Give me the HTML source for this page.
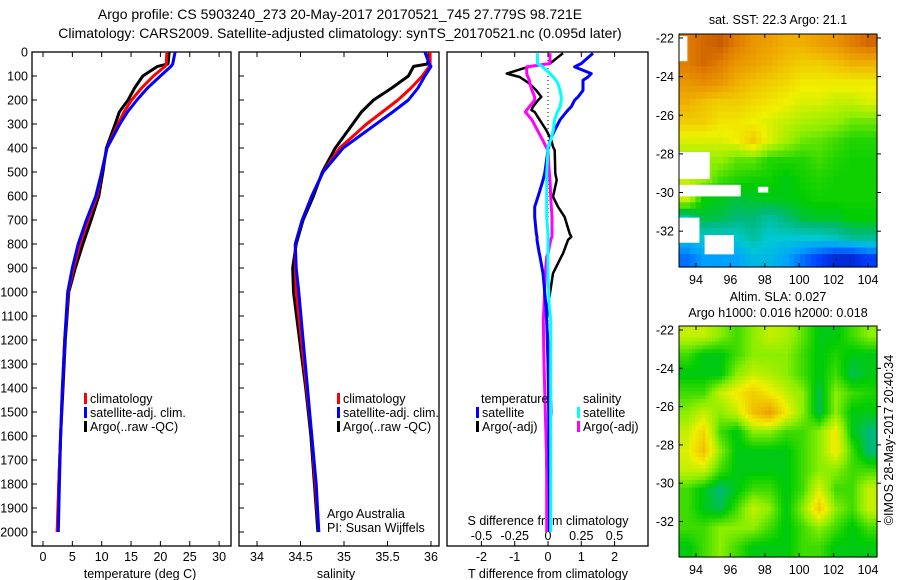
<!DOCTYPE html>
<html><head><meta charset="utf-8">
<style>
html,body{margin:0;padding:0;background:#fff;}
svg{display:block;font-family:"Liberation Sans",sans-serif;}
text{font-size:12.5px;fill:#000;}
</style></head>
<body>
<svg id="fig" width="900" height="580" viewBox="0 0 900 580" xmlns="http://www.w3.org/2000/svg">
<text x="340" y="19" text-anchor="middle" style="font-size:14px">Argo profile: CS 5903240_273 20-May-2017 20170521_745 27.779S 98.721E</text>
<text x="340" y="38" text-anchor="middle" style="font-size:14px">Climatology: CARS2009. Satellite-adjusted climatology: synTS_20170521.nc (0.095d later)</text>
<g id="g1"></g>
<g id="g2"></g>
<g id="g3"></g>
<g id="m1"></g>
<g id="m2"></g>
<text transform="translate(893,440) rotate(-90)" text-anchor="middle">©IMOS 28-May-2017 20:40:34</text>
</svg>
<script>
// ---------- data ----------
const depthTicks=[0,100,200,300,400,500,600,700,800,900,1000,1100,1200,1300,1400,1500,1600,1700,1800,1900,2000];
const tempTicks=[0,5,10,15,20,25,30];
const salTicks=[34,34.5,35,35.5,36];
const salTickLabels=["34","34.5","35","35.5","36"];
const dTTicks=[-2,-1,0,1,2];
const dSTicks=[-0.5,-0.25,0,0.25,0.5];
const dSTickLabels=["-0.5","-0.25","0","0.25","0.5"];

const profDepth=[0,50,60,100,150,200,250,300,400,500,600,700,800,900,1000,1200,1400,1600,1800,2000];
const tempClim=[21.1,21.0,20.8,18.8,16.8,15.1,13.8,12.8,10.9,10.0,9.2,7.7,6.3,5.2,4.3,3.7,3.3,3.0,2.7,2.4];
const tempSat=[22.5,22.1,21.8,20.0,17.8,16.0,14.4,13.1,10.9,10.0,9.0,7.4,6.0,5.0,4.2,3.7,3.3,3.0,2.8,2.6];
const tempArgo=[21.5,21.3,19.5,17.0,15.6,14.5,13.0,12.3,10.8,10.2,9.5,8.2,6.8,5.5,4.4,3.8,3.4,3.0,2.7,2.5];
const salClim=[35.99,35.99,35.98,35.9,35.77,35.62,35.44,35.26,34.95,34.76,34.63,34.52,34.44,34.44,34.45,34.51,34.57,34.63,34.67,34.71];
const salSat=[35.93,35.98,36.0,35.93,35.85,35.74,35.56,35.37,34.99,34.76,34.63,34.52,34.44,34.45,34.48,34.53,34.58,34.63,34.68,34.71];
const salArgo=[35.98,35.96,35.8,35.74,35.55,35.34,35.2,35.1,34.9,34.75,34.65,34.53,34.45,34.41,34.42,34.49,34.56,34.62,34.66,34.7];

const diffDepth=[5,48,62,90,104,118,132,160,187,201,228,242,250,283,326,367,395,409,506,534,603,645,687,756,770,783,840,853,922,1061,1117,1300,1500,1700,1900,2000];
const dTSat=[1.35,1.0,0.8,1.3,1.2,1.05,1.05,1.05,0.9,0.8,0.7,0.6,0.55,0.36,0.2,0.06,0.02,0.0,-0.1,-0.15,-0.3,-0.4,-0.4,-0.35,-0.33,-0.33,-0.26,-0.24,-0.15,-0.06,-0.04,0.0,0.02,0.03,0.05,0.05];
const dTArgo=[0.45,0.06,-0.6,-1.24,-0.85,-0.7,-0.55,-0.35,-0.2,-0.3,-0.45,-0.5,-0.4,-0.25,-0.05,0.1,0.15,0.2,0.22,0.26,0.15,0.3,0.5,0.65,0.7,0.6,0.45,0.4,0.15,0.0,-0.04,0.05,0.1,-0.05,0.0,0.0];
const dSSat=[-0.08,-0.08,-0.04,0.015,0.04,0.06,0.075,0.09,0.1,0.1,0.09,0.08,0.07,0.05,0.04,0.02,0.0,0.0,-0.01,-0.01,-0.01,-0.01,-0.01,0.0,0.0,0.0,0.0,0.0,0.0,0.01,0.02,0.02,0.02,0.02,0.02,0.02];
const dSArgo=[0.015,0.015,-0.16,-0.16,-0.15,-0.14,-0.135,-0.12,-0.1,-0.1,-0.14,-0.16,-0.17,-0.12,-0.08,-0.04,-0.015,0.0,0.01,0.015,0.02,0.025,0.03,0.03,0.03,0.02,0.0,-0.01,-0.02,-0.03,-0.035,-0.03,-0.02,-0.01,-0.01,-0.01];

const lonTicks=[94,96,98,100,102,104];
const latTicks=[-22,-24,-26,-28,-30,-32];
const sstGrid=[
[.85,.88,.9,.85,.8,.78,.75,.75,.78,.8,.85,.88],
[.85,.88,.85,.8,.78,.75,.72,.7,.7,.72,.75,.75],
[.8,.82,.8,.75,.72,.7,.68,.65,.65,.65,.65,.65],
[.75,.72,.7,.7,.68,.66,.64,.62,.62,.6,.6,.62],
[.7,.7,.66,.66,.64,.62,.6,.58,.57,.56,.53,.53],
[.62,.62,.62,.64,.7,.62,.57,.53,.52,.5,.48,.48],
[.56,.56,.56,.52,.52,.48,.48,.48,.5,.48,.47,.47],
[.6,.56,.5,.48,.47,.47,.45,.47,.48,.47,.47,.47],
[.6,.46,.45,.43,.44,.45,.45,.46,.47,.47,.47,.47],
[.35,.43,.42,.4,.4,.37,.4,.43,.44,.44,.46,.46],
[.3,.33,.33,.33,.37,.33,.33,.33,.33,.35,.38,.38],
[.2,.25,.25,.26,.3,.3,.26,.2,.15,.1,.1,.15]];
const sstMissing=[[93,-29.6,96.6,-30.2],[93,-27.9,94.8,-29.3],[93,-31.3,94.2,-32.6],[94.5,-32.2,96.2,-33.2],[97.6,-29.7,98.2,-30],[93,-21.9,93.5,-23.2]];
const slaGrid=[
[.6,.6,.55,.5,.55,.6,.58,.52,.45,.45,.5,.55],
[.5,.45,.45,.5,.55,.55,.55,.5,.45,.48,.45,.45],
[.45,.45,.45,.55,.6,.58,.55,.5,.45,.5,.42,.45],
[.5,.5,.6,.65,.7,.65,.6,.55,.42,.55,.5,.48],
[.55,.6,.55,.6,.72,.78,.65,.55,.42,.55,.45,.45],
[.6,.68,.5,.45,.55,.55,.5,.5,.55,.65,.45,.4],
[.62,.72,.55,.45,.45,.45,.45,.5,.55,.65,.5,.4],
[.6,.6,.5,.45,.45,.45,.45,.5,.55,.55,.5,.5],
[.5,.45,.4,.45,.5,.5,.45,.5,.62,.5,.5,.6],
[.5,.45,.42,.5,.6,.55,.45,.55,.7,.55,.5,.6],
[.5,.5,.55,.55,.55,.5,.45,.5,.55,.5,.45,.5],
[.45,.5,.55,.5,.45,.45,.45,.5,.5,.45,.45,.45]];

// ---------- helpers ----------
const NS="http://www.w3.org/2000/svg";
function mk(parent,tag,attrs,txt){const e=document.createElementNS(NS,tag);for(const k in attrs)e.setAttribute(k,attrs[k]);if(txt!==undefined)e.textContent=txt;parent.appendChild(e);return e;}
const yD=d=>52+d*0.24;
const xT=t=>43+t*5.87;
const xS=s=>257+(s-34)*87;
const xdT=v=>548+v*33.3;
const xdS=v=>548+v*133;
const Y0=52,Y1=546;

function frame(g,x0,x1,name){
  const r=mk(g,'rect',{x:x0,y:Y0,width:x1-x0,height:Y1-Y0,fill:'none',stroke:'#000','stroke-width':1.3});
  
  
  depthTicks.forEach(d=>{mk(g,'line',{x1:x0,x2:x0+5,y1:yD(d),y2:yD(d),stroke:'#000'});});
}
function xticks(g,vals,labels,fx,y,name){
  vals.forEach((v,i)=>{
    mk(g,'line',{x1:fx(v),x2:fx(v),y1:Y1,y2:Y1-5,stroke:'#000'});
    mk(g,'line',{x1:fx(v),x2:fx(v),y1:Y0,y2:Y0+5,stroke:'#000'});
    const t=mk(g,'text',{x:fx(v),y:y,'text-anchor':'middle'},labels[i]);
    
    
  });
}
function line(g,xs,ys,fx,col,name,w){
  const pts=xs.map((v,i)=>fx(v).toFixed(1)+','+yD(ys[i]).toFixed(1)).join(' ');
  const p=mk(g,'polyline',{points:pts,fill:'none',stroke:col,'stroke-width':w||3,'stroke-linejoin':'round'});
  
  
}
function legend(g,x,y,col,label,name){
  mk(g,'rect',{x:x-6,y:y-10,width:3,height:11,fill:col});
  const t=mk(g,'text',{x:x,y:y},label);
  
  
}

// depth labels
const G1=document.getElementById('g1');
depthTicks.forEach(d=>{
  const t=mk(G1,'text',{x:28,y:yD(d)+4.5,'text-anchor':'end'},String(d));
  
  
});
// panel 1
frame(G1,32,231,'temperature');
xticks(G1,tempTicks,tempTicks.map(String),xT,561,'temperature-tick-label');
mk(G1,'text',{x:140,y:578,'text-anchor':'middle'},'temperature (deg C)');
line(G1,tempArgo,profDepth,xT,'#000','temperature-argo-line');
line(G1,tempClim,profDepth,xT,'#f00','temperature-climatology-line');
line(G1,tempSat,profDepth,xT,'#00f','temperature-satellite-line');
legend(G1,90,403,'#f00','climatology','legend-climatology');
legend(G1,90,417,'#00f','satellite-adj. clim.','legend-satellite');
legend(G1,90,431,'#000','Argo(..raw -QC)','legend-argo');

// panel 2
const G2=document.getElementById('g2');
frame(G2,239,439,'salinity');
xticks(G2,salTicks,salTickLabels,xS,561,'salinity-tick-label');
mk(G2,'text',{x:336,y:578,'text-anchor':'middle'},'salinity');
line(G2,salArgo,profDepth,xS,'#000','salinity-argo-line');
line(G2,salClim,profDepth,xS,'#f00','salinity-climatology-line');
line(G2,salSat,profDepth,xS,'#00f','salinity-satellite-line');
legend(G2,343,403,'#f00','climatology','legend-climatology-2');
legend(G2,343,417,'#00f','satellite-adj. clim.','legend-satellite-2');
legend(G2,343,431,'#000','Argo(..raw -QC)','legend-argo-2');
mk(G2,'text',{x:327,y:518},'Argo Australia');
mk(G2,'text',{x:327,y:532},'PI: Susan Wijffels');

// panel 3
const G3=document.getElementById('g3');
mk(G3,'rect',{x:447,y:Y0,width:201,height:Y1-Y0,fill:'none',stroke:'#000','stroke-width':1.3});
dTTicks.forEach(v=>{
  mk(G3,'line',{x1:xdT(v),x2:xdT(v),y1:Y1,y2:Y1-5,stroke:'#000'});
  mk(G3,'line',{x1:xdT(v),x2:xdT(v),y1:Y0,y2:Y0+5,stroke:'#000'});
  const t=mk(G3,'text',{x:xdT(v),y:561,'text-anchor':'middle'},String(v));
  
});
dSTicks.forEach((v,i)=>{
  const t=mk(G3,'text',{x:xdS(v),y:540,'text-anchor':'middle'},dSTickLabels[i]);
  
});
mk(G3,'text',{x:548,y:525,'text-anchor':'middle'},'S difference from climatology');
mk(G3,'text',{x:548,y:578,'text-anchor':'middle'},'T difference from climatology');
mk(G3,'line',{x1:548,x2:548,y1:Y0,y2:yD(1700),stroke:'#000','stroke-dasharray':'1,3'});
line(G3,dTArgo,diffDepth,xdT,'#000','t-diff-argo-line',2.5);
line(G3,dSArgo,diffDepth,xdS,'#f0f','s-diff-argo-line',3);
line(G3,dTSat,diffDepth,xdT,'#00f','t-diff-satellite-line',3);
line(G3,dSSat,diffDepth,xdS,'#0ff','s-diff-satellite-line',3);
mk(G3,'text',{x:481,y:403},'temperature');
legend(G3,482,417,'#00f','satellite','legend-t-satellite');
legend(G3,482,431,'#000','Argo(-adj)','legend-t-argo');
mk(G3,'text',{x:583,y:403},'salinity');
legend(G3,583,417,'#0ff','satellite','legend-s-satellite');
legend(G3,583,431,'#f0f','Argo(-adj)','legend-s-argo');

// ---------- maps ----------
const stops=[[0,[0,0,130]],[.15,[0,64,255]],[.25,[0,160,255]],[.33,[0,200,210]],[.4,[0,185,120]],[.46,[0,205,0]],[.55,[140,238,0]],[.64,[240,240,0]],[.75,[240,175,0]],[.85,[225,125,0]],[.95,[175,60,0]],[1,[140,20,0]]];
function cmap(v){
  v=Math.max(0,Math.min(1,v));
  for(let i=1;i<stops.length;i++){if(v<=stops[i][0]){const a=stops[i-1],b=stops[i],f=(v-a[0])/(b[0]-a[0]);
    return 'rgb('+a[1].map((c,k)=>Math.round(c+(b[1][k]-c)*f)).join(',')+')';}}
  return 'rgb(140,20,0)';
}
function drawMap(g,grid,top,bottom,title1,title2,name,sub,missing){
  const x0=679,x1=877;
  const lonX=l=>696+(l-94)*17.2;
  const ly=l=>top+4+(-22-l)*19.4*((bottom-top)/234);
  const R=grid.length,C=grid[0].length;
  const n=sub;
  const W=(x1-x0)/(C*n),H=(bottom-top)/(R*n);
  for(let r=0;r<R*n;r++)for(let c=0;c<C*n;c++){
    const gr=Math.min(R-1,(r+0.5)/n-0.5),gc=Math.min(C-1,(c+0.5)/n-0.5);
    const r0=Math.max(0,Math.floor(gr)),c0=Math.max(0,Math.floor(gc));
    const r1=Math.min(R-1,r0+1),c1=Math.min(C-1,c0+1);
    const fr=Math.max(0,gr-r0),fc=Math.max(0,gc-c0);
    const v=(grid[r0][c0]*(1-fc)+grid[r0][c1]*fc)*(1-fr)+(grid[r1][c0]*(1-fc)+grid[r1][c1]*fc)*fr;
    const cell=mk(g,'rect',{x:(x0+c*W).toFixed(2),y:(top+r*H).toFixed(2),width:(W+0.6).toFixed(2),height:(H+0.6).toFixed(2),fill:cmap(v)});
    
    
  }
  if(missing){missing.forEach(m=>{
    const w=mk(g,'rect',{x:lonX(m[0]),y:ly(m[1]),width:lonX(m[2])-lonX(m[0]),height:ly(m[3])-ly(m[1]),fill:'#fff'});
    
    
  });}
  mk(g,'rect',{x:x0,y:top,width:x1-x0,height:bottom-top,fill:'none',stroke:'#000','stroke-width':1});
  lonTicks.forEach(l=>{
    mk(g,'line',{x1:lonX(l),x2:lonX(l),y1:bottom,y2:bottom-4,stroke:'#000'});
    mk(g,'line',{x1:lonX(l),x2:lonX(l),y1:top,y2:top+4,stroke:'#000'});
    const t=mk(g,'text',{x:lonX(l),y:bottom+17,'text-anchor':'middle'},String(l));
    
  });
  latTicks.forEach(l=>{
    mk(g,'line',{x1:x0,x2:x0+4,y1:ly(l),y2:ly(l),stroke:'#000'});
    mk(g,'line',{x1:x1,x2:x1+4,y1:ly(l),y2:ly(l),stroke:'#000'});
    const t=mk(g,'text',{x:674,y:ly(l)+4.5,'text-anchor':'end'},String(l));
    
  });
  if(title2){
    mk(g,'text',{x:778,y:top-25,'text-anchor':'middle'},title1);
    mk(g,'text',{x:778,y:top-9,'text-anchor':'middle'},title2);
  } else {
    mk(g,'text',{x:778,y:top-10,'text-anchor':'middle'},title1);
  }
}
drawMap(document.getElementById('m1'),sstGrid,34,267,'sat. SST: 22.3 Argo: 21.1',null,'sst-map',3,sstMissing);
drawMap(document.getElementById('m2'),slaGrid,326,557,'Altim. SLA: 0.027','Argo h1000: 0.016 h2000: 0.018','sla-map',5,null);
</script>
</body></html>
